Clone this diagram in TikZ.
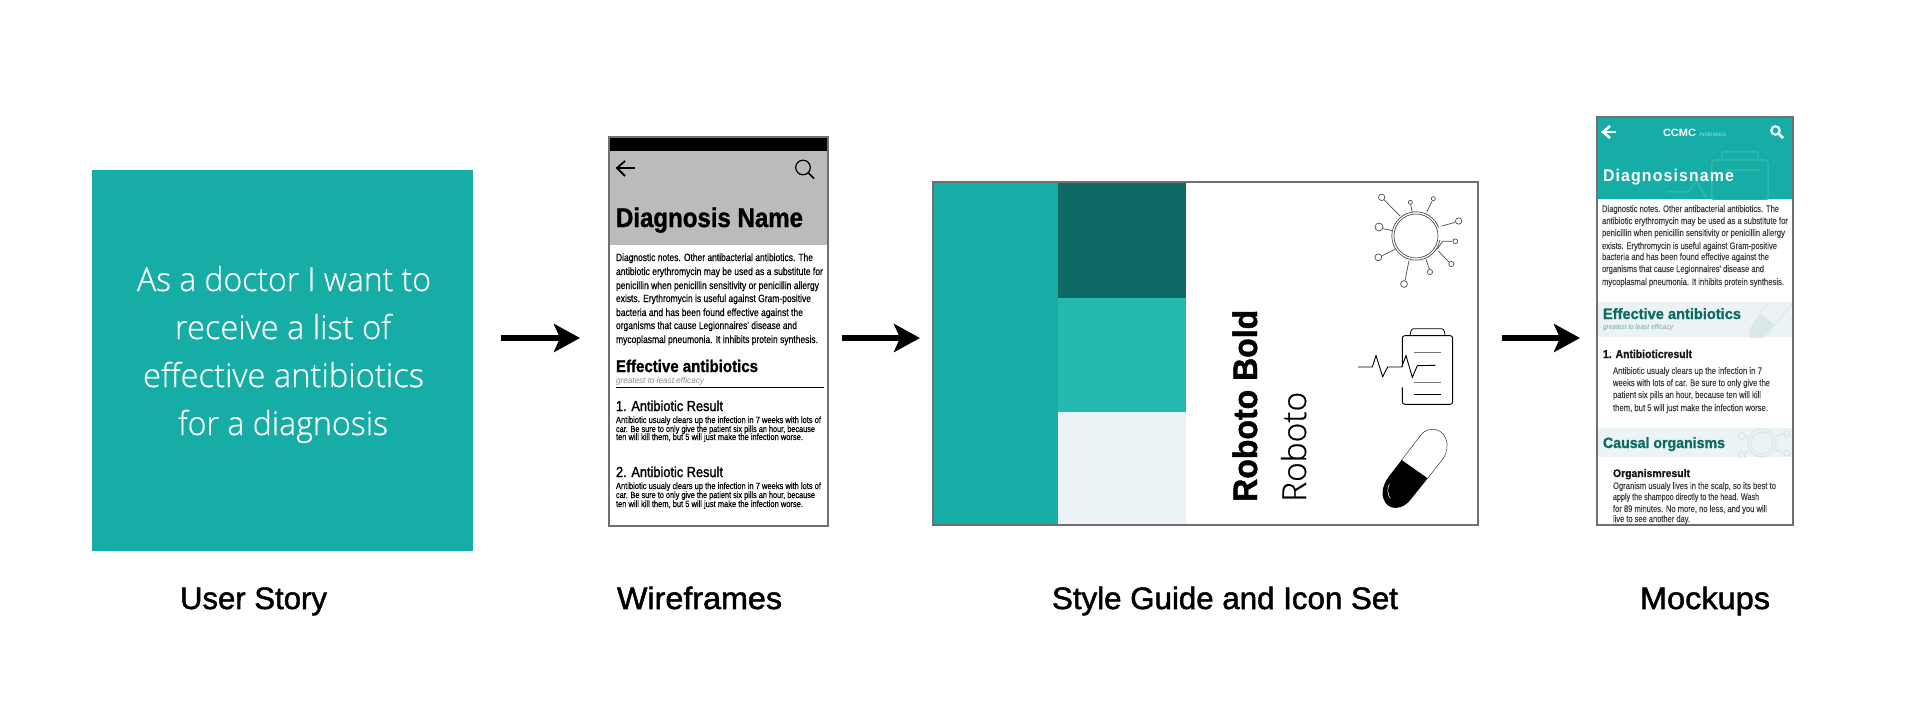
\documentclass[tikz,border=0pt]{standalone}
\usepackage{graphicx}
\usepackage{fontspec}
\usetikzlibrary{arrows.meta}
\setmainfont{Liberation Sans}
\newfontfamily\lightf[FakeBold=0.6]{Open Sans Light}
\newfontfamily\medf[FakeBold=1.6]{Liberation Sans}
\newfontfamily\bodyf[FakeBold=0.5]{Liberation Sans}
\newfontfamily\heavyf[BoldFeatures={FakeBold=1.2}]{Liberation Sans}
\newfontfamily\spacedf[BoldFeatures={LetterSpace=7}]{Liberation Sans}
\definecolor{teal1}{HTML}{16ADA6}
\definecolor{teal2}{HTML}{0E6A65}
\definecolor{teal3}{HTML}{23B9B1}
\definecolor{pale}{HTML}{EBF3F4}
\definecolor{wgray}{HTML}{BBBBBB}
\definecolor{edge}{HTML}{707070}
\definecolor{wmark}{HTML}{2DB7AF}
\definecolor{wmark2}{HTML}{DAE8E9}
\newcommand{\fsz}[1]{\fontsize{#1}{#1}\selectfont}
\newcommand{\tline}[6]{\node[tl,#1] (#2) at (#3,#4) {\resizebox{#5pt}{\height}{#6}};}
\tikzset{
  tl/.style={anchor=base west,inner sep=0pt,outer sep=0pt},
  flow/.style={line width=6.5pt,-{Stealth[length=26pt,width=28pt,inset=6pt]}},
  panel/.style={minimum width=#1,inner sep=0pt,outer sep=0pt},
  caption/.style={font=\medf\fsz{31}},
  story/.style={font=\lightf\fsz{33},text=white},
  wbody/.style={font=\bodyf\fsz{10.5},text=black},
  wsmall/.style={font=\bodyf\fsz{9},text=black},
  whead/.style={font=\medf\fsz{14.5}},
  mbody/.style={font=\bodyf\fsz{9.5},text=black!75},
  mdark/.style={font=\heavyf\bfseries\fsz{15},text=teal2},
  thinic/.style={line width=0.7pt,draw=black!70},
  wireic/.style={line width=1.5pt,draw=black},
}
\begin{document}
\begin{tikzpicture}[x=1pt,y=-1pt]
\useasboundingbox (0,0) rectangle (1920,725);
\coordinate (flowY) at (0,338);

% ---------- panels (backgrounds)
\node[fill=teal1,minimum width=381pt,minimum height=381pt,inner sep=0pt,outer sep=0pt] (storybox) at (282.5,360.5) {};
\node[panel=219pt,minimum height=389pt,fill=white] (wire) at (718.5,331.5) {};
\node[panel=545pt,minimum height=343pt,fill=white] (guide) at (1205.5,353.5) {};
\node[panel=196pt,minimum height=408pt,fill=white] (mock) at (1695,321) {};

% ---------- user story
\tline{story}{s1}{137}{291}{294}{As a doctor I want to}
\tline{story}{s2}{175}{339}{216}{receive a list of}
\tline{story}{s3}{143}{387}{281}{effective antibiotics}
\tline{story}{s4}{178}{435}{210}{for a diagnosis}

% ---------- wireframe
\fill[black] (609.5,137.5) rectangle (827.5,151);
\fill[wgray] (609.5,151) rectangle (827.5,245);
\draw[wireic,line width=1.8pt] (617,168) -- (635,168);
\draw[wireic,line width=1.8pt] (625,161) -- (617,168) -- (625,176);
\draw[wireic,line width=1.2pt] (803,167.5) circle (7.3pt);
\draw[wireic,line width=1.5pt] (808.5,173) -- (814,178.5);
\tline{font=\heavyf\bfseries\fsz{27}}{w0}{616}{227}{187}{Diagnosis Name}
\tline{wbody}{w1}{616}{261}{197}{Diagnostic notes. Other antibacterial antibiotics. The}
\tline{wbody}{w2}{616}{275}{207}{antibiotic erythromycin may be used as a substitute for}
\tline{wbody}{w3}{616}{289}{203}{penicillin when penicillin sensitivity or penicillin allergy}
\tline{wbody}{w4}{616}{302}{195}{exists. Erythromycin is useful against Gram-positive}
\tline{wbody}{w5}{616}{316}{187}{bacteria and has been found effective against the}
\tline{wbody}{w6}{616}{329}{181}{organisms that cause Legionnaires' disease and}
\tline{wbody}{w7}{616}{343}{202}{mycoplasmal pneumonia. It inhibits protein synthesis.}
\tline{font=\heavyf\bfseries\fsz{17}}{w8}{616}{372}{142}{Effective antibiotics}
\tline{font=\itshape\fsz{8.5},text=black!45}{w9}{616}{383}{88}{greatest to least efficacy}
\draw[line width=0.7pt,black] (616,387) -- (824,387);
\tline{whead}{w10}{616}{411}{107}{1. Antibiotic Result}
\tline{wsmall}{w11}{616}{423}{205}{Antibiotic usualy clears up the infection in 7 weeks with lots of}
\tline{wsmall}{w12}{616}{432}{199}{car. Be sure to only give the patient six pills an hour, because}
\tline{wsmall}{w13}{616}{440}{187}{ten will kill them, but 5 will just make the infection worse.}
\tline{whead}{w14}{616}{477}{107}{2. Antibiotic Result}
\tline{wsmall}{w15}{616}{489}{205}{Antibiotic usualy clears up the infection in 7 weeks with lots of}
\tline{wsmall}{w16}{616}{498}{199}{car. Be sure to only give the patient six pills an hour, because}
\tline{wsmall}{w17}{616}{507}{187}{ten will kill them, but 5 will just make the infection worse.}

% ---------- style guide
\fill[teal1] (933.5,182.5) rectangle (1058,524.5);
\fill[teal2] (1058,182.5) rectangle (1186,298);
\fill[teal3] (1058,298) rectangle (1186,412);
\fill[pale] (1058,412) rectangle (1186,524.5);
\node[rotate=90,anchor=base west,inner sep=0pt,font=\heavyf\bfseries\fsz{34}] (g1) at (1257,502) {\resizebox{192pt}{\height}{Roboto Bold}};
\node[rotate=90,anchor=base west,inner sep=0pt,font=\lightf\fsz{33}] (g2) at (1306,502) {\resizebox{110pt}{\height}{Roboto}};

\begin{scope}[shift={(1330,170)},x=0.3333pt,y=-0.3333pt]
  % virus
  \draw[thinic] (258,198) circle (24.2pt);
  \draw[thinic] (258,198) circle (22pt);
  \draw[white,line width=4pt] (331,172) -- (333,210);
  \draw[thinic] (163,90) -- (210,138);
  \draw[thinic] (242,103) -- (247,127);
  \draw[thinic] (306,94) -- (290,127);
  \draw[thinic] (376,157) -- (335,168);
  \draw[thinic] (367,214) -- (338,214) -- (322,237);
  \draw[thinic] (357,276) -- (325,243);
  \draw[thinic] (298,298) -- (288,268);
  \draw[thinic] (225,332) -- (237,272);
  \draw[thinic] (155,258) -- (195,238);
  \draw[thinic] (158,176) -- (188,182);
  \draw[thinic] (155,82) circle (3.2pt);
  \draw[thinic] (241,97) circle (2pt);
  \draw[thinic] (310,86) circle (2pt);
  \draw[thinic] (386,153) circle (3.2pt);
  \draw[thinic] (376,214) circle (2.4pt);
  \draw[thinic] (364,282) circle (2.6pt);
  \draw[thinic] (300,306) circle (2.6pt);
  \draw[thinic] (222,342) circle (3.4pt);
  \draw[thinic] (145,262) circle (3.4pt);
  \draw[thinic] (147,171) circle (4pt);
  % clipboard
  \draw[line width=0.9pt,black] (217,590) -- (217,505) .. controls (217,500) and (219,497) .. (225,497) -- (360,497) .. controls (366,497) and (368,500) .. (368,505) -- (368,695) .. controls (368,700) and (365,703) .. (360,703) -- (225,703) .. controls (219,703) and (217,700) .. (217,695) -- (217,652);
  \draw[line width=0.8pt,black] (240,495) -- (243,483) .. controls (245,478) and (248,476) .. (252,476) -- (333,476) .. controls (338,476) and (341,478) .. (343,483) -- (345,495);
  \draw[line width=0.5pt,black!55] (252,547) -- (332,547);
  \draw[line width=0.5pt,black!55] (252,636) -- (332,636);
  \draw[line width=1pt,black] (252,675) -- (332,675);
  \draw[line width=0.9pt,black,line join=miter] (84,591) -- (127,591) -- (138,557) -- (158,620) -- (173,591) -- (215,591) -- (228,557) -- (247,622) -- (262,587) -- (316,586);
  % capsule
  \draw[line width=0.5pt,black!80] (215,870) -- (275,792) .. controls (295,770) and (335,773) .. (347,805) .. controls (356,828) and (350,850) .. (340,865) -- (293,925);
  \fill[black] (215,870) -- (293,925) -- (245,985) .. controls (220,1022) and (172,1025) .. (160,985) .. controls (152,960) and (165,935) .. (180,915) -- cycle;
  \draw[line width=0.5pt,white] (178,942) .. controls (171,955) and (172,972) .. (181,986);
\end{scope}

% ---------- mockup
\fill[teal1] (1597,117) rectangle (1793,199);
\fill[pale] (1597,302) rectangle (1793,337);
\fill[pale] (1597,428) rectangle (1793,457);
\begin{scope}
  \clip (1597,117) rectangle (1793,199);
  \begin{scope}[shift={(1600,110)},x=0.3333pt,y=-0.3333pt]
    \draw[wmark,line width=1.8pt,rounded corners=4pt] (335,270) rectangle (505,150);
    \draw[wmark,line width=1.8pt,rounded corners=3pt] (365,150) -- (365,125) -- (475,125) -- (475,150);
    \draw[wmark,line width=1.8pt] (200,245) -- (265,245) -- (290,215) -- (320,265);
    \draw[wmark,line width=1.8pt] (380,180) -- (480,180);
  \end{scope}
\end{scope}
\begin{scope}
  \clip (1597,302) rectangle (1793,337);
  \fill[wmark2] (1760,313) -- (1775,325) -- (1762,340) -- (1750,340) -- (1749,330) -- cycle;
  \draw[wmark2,line width=0.8pt] (1760,313) -- (1771,300);
  \draw[wmark2,line width=0.8pt] (1775,325) -- (1793,303);
\end{scope}
\begin{scope}
  \clip (1597,428) rectangle (1793,457);
  \draw[wmark2,line width=1.3pt] (1762,443) circle (14pt);
  \draw[wmark2,line width=1.3pt] (1762,443) circle (11pt);
  \draw[wmark2,line width=1.2pt] (1748,436) -- (1745,435);
  \draw[wmark2,line width=1.2pt] (1776,436) -- (1783,434);
  \draw[wmark2,line width=1.2pt] (1776,450) -- (1783,452);
  \draw[wmark2,line width=1.2pt] (1749,450) -- (1745,453);
  \draw[wmark2,line width=1.2pt] (1742,436) circle (3.5pt);
  \draw[wmark2,line width=1.2pt] (1742,455) circle (3.5pt);
  \draw[wmark2,line width=1.2pt] (1787,434) circle (3pt);
  \draw[wmark2,line width=1.2pt] (1787,453) circle (3pt);
\end{scope}
\draw[white,line width=2.6pt] (1603,132) -- (1616,132);
\draw[white,line width=2.6pt] (1610,126) -- (1603,132) -- (1610,138);
\draw[white,line width=2.2pt] (1775.5,130.5) circle (4.2pt);
\draw[white,line width=2.6pt] (1779,134) -- (1783,138);
\tline{font=\bfseries\fsz{10.5},text=white}{m1}{1663}{136}{33}{CCMC}
\tline{font=\fsz{6},text=white!55!teal1}{m2}{1699}{136}{27}{Antibiotics}
\tline{font=\spacedf\bfseries\fsz{17},text=white}{m3}{1603}{181}{131}{Diagnosisname}
\tline{mbody}{m4}{1602}{212}{177}{Diagnostic notes. Other antibacterial antibiotics. The}
\tline{mbody}{m5}{1602}{224}{186}{antibiotic erythromycin may be used as a substitute for}
\tline{mbody}{m6}{1602}{236}{183}{penicillin when penicillin sensitivity or penicillin allergy}
\tline{mbody}{m7}{1602}{249}{175}{exists. Erythromycin is useful against Gram-positive}
\tline{mbody}{m8}{1602}{260}{167}{bacteria and has been found effective against the}
\tline{mbody}{m9}{1602}{272}{162}{organisms that cause Legionnaires' disease and}
\tline{mbody}{m10}{1602}{285}{182}{mycoplasmal pneumonia. It inhibits protein synthesis.}
\tline{mdark}{m11}{1603}{319}{138}{Effective antibiotics}
\tline{font=\itshape\fsz{7},text=teal2!60}{m12}{1603}{329}{70}{greatest to least efficacy}
\tline{font=\heavyf\bfseries\fsz{11.5},text=black!90}{m13}{1603}{358}{89}{1. Antibioticresult}
\tline{mbody}{m14}{1613}{374}{149}{Antibiotic usualy clears up the infection in 7}
\tline{mbody}{m15}{1613}{386}{157}{weeks with lots of car. Be sure to only give the}
\tline{mbody}{m16}{1613}{398}{148}{patient six pills an hour, because ten will kill}
\tline{mbody}{m17}{1613}{411}{155}{them, but 5 will just make the infection worse.}
\tline{mdark}{m18}{1603}{448}{122}{Causal organisms}
\tline{font=\heavyf\bfseries\fsz{11},text=black!90}{m19}{1613}{477}{77}{Organismresult}
\tline{mbody}{m20}{1613}{489}{163}{Ogranism usualy lives in the scalp, so its best to}
\tline{mbody}{m21}{1613}{500}{146}{apply the shampoo directly to the head. Wash}
\tline{mbody}{m22}{1613}{512}{154}{for 89 minutes. No more, no less, and you will}
\tline{mbody}{m23}{1613}{522}{77}{live to see another day.}

% ---------- borders on top
\draw[edge,line width=1.2pt] (wire.north west) rectangle (wire.south east);
\draw[edge,line width=1.2pt] (guide.north west) rectangle (guide.south east);
\draw[edge,line width=1.2pt] (mock.north west) rectangle (mock.south east);

% ---------- arrows
\draw[flow] ([xshift=28pt]storybox.east |- flowY) -- ([xshift=-29pt]wire.west |- flowY);
\draw[flow] ([xshift=14pt]wire.east |- flowY) -- ([xshift=-13pt]guide.west |- flowY);
\draw[flow] ([xshift=24pt]guide.east |- flowY) -- ([xshift=-17pt]mock.west |- flowY);

% ---------- captions
\tline{caption}{c1}{180}{609}{147}{User Story}
\tline{caption}{c2}{617}{609}{165}{Wireframes}
\tline{caption}{c3}{1052}{609}{346}{Style Guide and Icon Set}
\tline{caption}{c4}{1640}{609}{130}{Mockups}
\end{tikzpicture}
\end{document}
